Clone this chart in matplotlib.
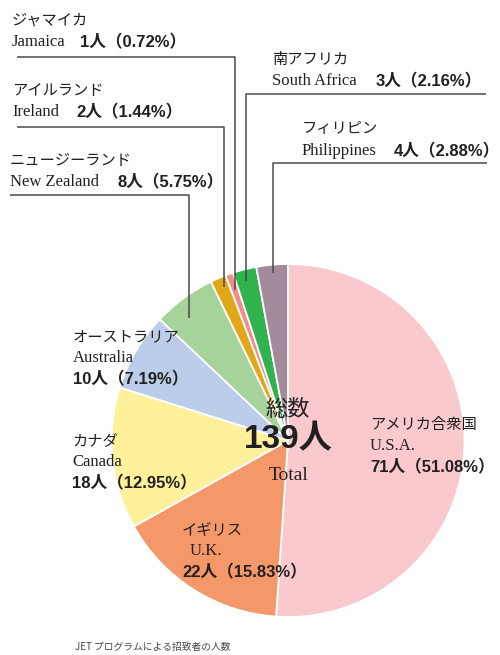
import matplotlib
matplotlib.use("Agg")
import matplotlib.pyplot as plt

# data
names_ja = ["アメリカ合衆国", "イギリス", "カナダ", "オーストラリア", "ニュージーランド",
            "アイルランド", "ジャマイカ", "南アフリカ", "フィリピン"]
names_en = ["U.S.A.", "U.K.", "Canada", "Australia", "New Zealand",
            "Ireland", "Jamaica", "South Africa", "Philippines"]
counts = [71, 22, 18, 10, 8, 2, 1, 3, 4]
pcts = [51.08, 15.83, 12.95, 7.19, 5.75, 1.44, 0.72, 2.16, 2.88]
total = 139
colors = ["#f9c9cd", "#f4986a", "#fff09b", "#bccde9", "#a6d39a",
          "#e1a716", "#f28c8c", "#30b24d", "#a48b9c"]

JP = ["Noto Sans CJK JP", "DejaVu Sans"]
SANS = ["Liberation Sans", "Noto Sans CJK JP"]
SERIF = ["Liberation Serif", "Noto Sans CJK JP"]
INK = "#231f20"

fig = plt.figure(figsize=(5.0, 6.55), dpi=100)
ax = fig.add_axes([0, 0, 1, 1])

cx, cy, r = 288, 440.5, 176.5
ax.pie(counts, colors=colors, startangle=-90, counterclock=True,
       center=(cx, cy), radius=r, frame=True,
       wedgeprops=dict(edgecolor="white", linewidth=1.3))
ax.set_xlim(0, 500)
ax.set_ylim(655, 0)  # pixel-like coordinates, y down
ax.set_aspect("equal")
ax.axis("off")


def count_label(i):
    return f"{counts[i]}人（{pcts[i]:.2f}%）"


# labels inside the pie: (x, y of first line)
inside = {0: (370, 425), 1: (182, 530), 2: (72, 441), 3: (73, 337)}
en_dx = {0: 0, 1: 8, 2: 0, 3: 0}
for i, (x, y) in inside.items():
    ax.text(x, y, names_ja[i], family=JP, fontsize=11, color=INK, va="center")
    ax.text(x + en_dx[i], y + 21, names_en[i], family=SERIF, fontsize=12,
            color=INK, va="center")
    ax.text(x, y + 42, count_label(i), family=SANS, fontsize=12,
            fontweight="bold", color=INK, va="center")

# labels outside with leader lines: x, y of first line, x of count text, leader path
outside = {
    6: (12, 20, 80, [(17, 57), (235, 57), (235, 290)]),
    5: (12, 90, 76, [(17, 127), (224, 127), (224, 287)]),
    4: (10, 160, 117, [(10, 195), (189, 195), (189, 318)]),
    7: (272, 59, 376, [(486, 94), (246, 94), (246, 281)]),
    8: (302, 129, 394, [(487, 163), (273, 163), (273, 273)]),
}
for i, (x, y, xc, path) in outside.items():
    ax.text(x, y, names_ja[i], family=JP, fontsize=11, color=INK, va="center")
    ax.text(x, y + 22, names_en[i], family=SERIF, fontsize=12, color=INK,
            va="center")
    ax.text(xc, y + 22, count_label(i), family=SANS, fontsize=12,
            fontweight="bold", color=INK, va="center")
    xs, ys = zip(*path)
    ax.plot(xs, ys, color="#4a4a4a", linewidth=1.1, solid_capstyle="butt")

# center total
ax.text(cx, 409, "総数", family=JP, fontsize=16, color=INK,
        ha="center", va="center")
ax.text(cx, 440, f"{total}人", family=SANS, fontsize=24, fontweight="bold",
        color=INK, ha="center", va="center")
ax.text(cx + 1, 475, "Total", family=SERIF, fontsize=14, color=INK,
        ha="center", va="center")

ax.text(75, 647, "JET プログラムによる招致者の人数", family=JP, fontsize=7,
        color="#444444", va="center")

fig.savefig("out.png", dpi=100, facecolor="white")
